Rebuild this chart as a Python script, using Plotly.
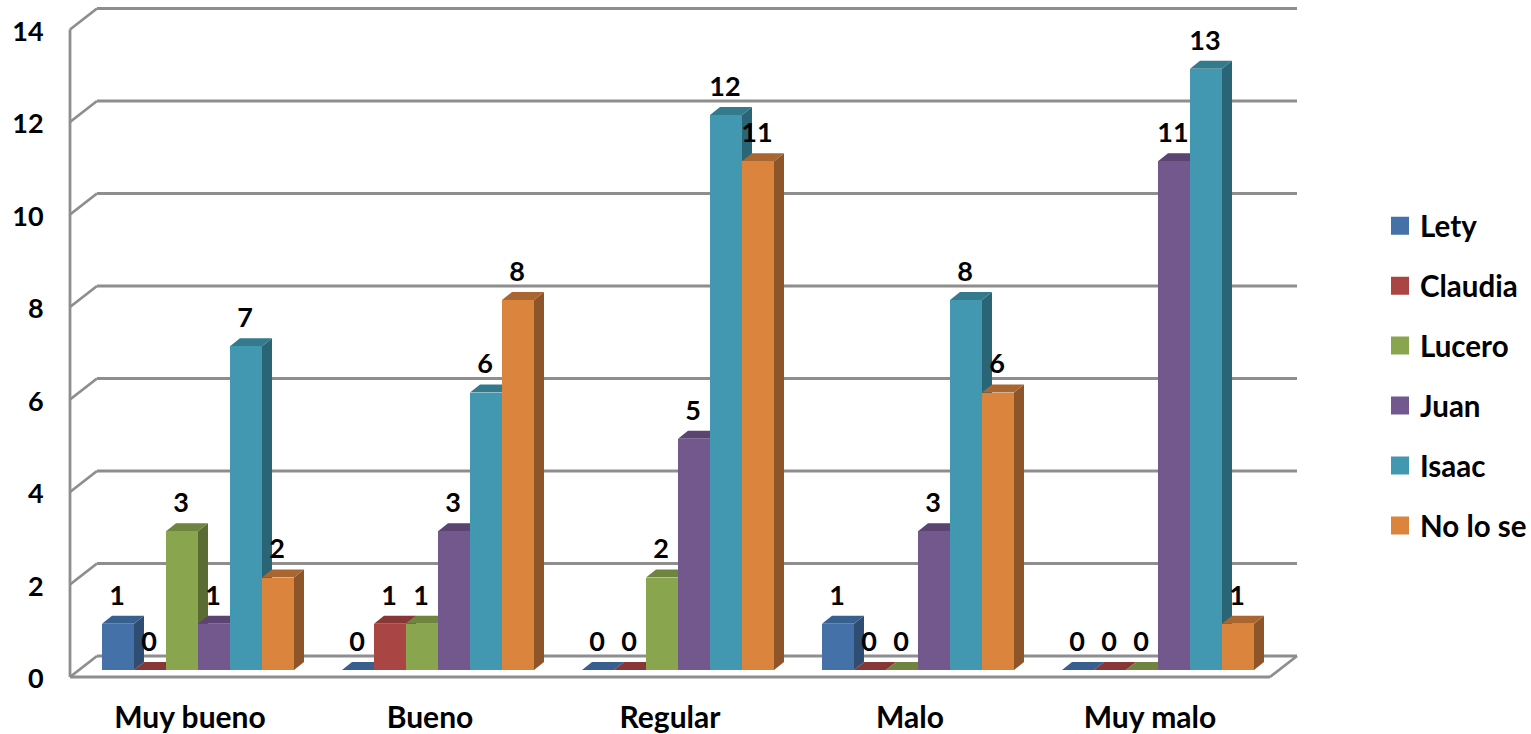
import plotly.graph_objects as go

# Survey counts per answer category and respondent
categories = ["Muy bueno", "Bueno", "Regular", "Malo", "Muy malo"]
lety = [1, 0, 0, 1, 0]
claudia = [0, 1, 0, 0, 0]
lucero = [3, 1, 2, 0, 0]
juan = [1, 3, 5, 3, 11]
isaac = [7, 6, 12, 8, 13]
no_lo_se = [2, 8, 11, 6, 1]
value_ticks = [0, 2, 4, 6, 8, 10, 12, 14]

series = [
    ("Lety", lety, "#4472A8", "#38608F", "#2F4C72"),
    ("Claudia", claudia, "#A94542", "#873735", "#72302E"),
    ("Lucero", lucero, "#89A54E", "#6E843F", "#5B6B34"),
    ("Juan", juan, "#73588E", "#5B4372", "#4A3A5F"),
    ("Isaac", isaac, "#4198B0", "#347A8D", "#2A6575"),
    ("No lo se", no_lo_se, "#DB843D", "#A96630", "#8D5528"),
]

# Scale of the drawing area, in pixels per data unit
PX_PER_CAT = 240.0
PX_PER_VAL = 46.25
PLOT_LEFT, PLOT_RIGHT, PLOT_TOP, PLOT_BOTTOM = 66, 1300, 4, 687
ZERO_PX = 677
FIG_W, FIG_H = 1531, 734
PLOT_W, PLOT_H = PLOT_RIGHT - PLOT_LEFT, PLOT_BOTTOM - PLOT_TOP

x_range = [-0.5 - 4 / PX_PER_CAT, -0.5 - 4 / PX_PER_CAT + PLOT_W / PX_PER_CAT]
y_range = [-(PLOT_BOTTOM - ZERO_PX) / PX_PER_VAL, (ZERO_PX - PLOT_TOP) / PX_PER_VAL]

# Pseudo-3D geometry: depth of the walls and of the bars, converted to data units
wall_dx, wall_dy = 27 / PX_PER_CAT, 21 / PX_PER_VAL
bar_w = 32 / PX_PER_CAT
bar_shift = 8 / PX_PER_CAT
bar_lift = 7 / PX_PER_VAL
depth_dx, depth_dy = 10 / PX_PER_CAT, 8 / PX_PER_VAL
label_gap = 26 / PX_PER_VAL

FONT = "Lato, Carlito, sans-serif"
GRID = "#8E8E8E"

fig = go.Figure()

# Top and side faces sit on the base subplot, beneath the front faces
for i, (name, vals, front, top, side) in enumerate(series):
    tx, ty, sx, sy = [], [], [], []
    for c, v in enumerate(vals):
        left = c + bar_shift + (i - 3) * bar_w
        right = left + bar_w
        h = v + bar_lift
        tx += [left, left + depth_dx, right + depth_dx, right, left, None]
        ty += [h, h + depth_dy, h + depth_dy, h, h, None]
        sx += [right, right + depth_dx, right + depth_dx, right, right, None]
        sy += [h, h + depth_dy, bar_lift + depth_dy, bar_lift, h, None]
    for xs, ys, col in ((sx, sy, side), (tx, ty, top)):
        fig.add_trace(go.Scatter(x=xs, y=ys, mode="lines", fill="toself", fillcolor=col,
                                 line=dict(width=0, color=col), hoverinfo="skip", showlegend=False))

# Front faces and legend entries
for i, (name, vals, front, top, side) in enumerate(series):
    centers = [c + bar_shift + (i - 2.5) * bar_w for c in range(len(categories))]
    fig.add_trace(go.Bar(x=centers, y=vals, base=bar_lift, width=bar_w, name=name,
                         marker=dict(color=front, line=dict(width=0)),
                         xaxis="x2", yaxis="y2", showlegend=False))
    fig.add_trace(go.Scatter(x=[None], y=[None], mode="markers", name=name, legendgroup=name,
                             marker=dict(symbol="square", size=16, color=front,
                                         line=dict(width=2, color=front))))

# Value labels above each bar
for i, (name, vals, front, top, side) in enumerate(series):
    centers = [c + bar_shift + (i - 2.5) * bar_w - 1 / PX_PER_CAT for c in range(len(categories))]
    fig.add_trace(go.Scatter(x=centers, y=[v + bar_lift + label_gap for v in vals],
                             mode="text", text=[str(v) for v in vals], textposition="middle center",
                             textfont=dict(family=FONT, size=27, color="#000000", weight=700),
                             xaxis="x2", yaxis="y2", hoverinfo="skip", showlegend=False))

# Walls and floor of the chart box
x_front_l, x_front_r = -0.5, -0.5 + 5
x_back_l, x_back_r = x_front_l + wall_dx, x_front_r + wall_dx
line = dict(color=GRID, width=2.8)
shapes = []
for v in value_ticks:
    shapes.append(dict(type="line", xref="x", yref="y", layer="below", line=line,
                       x0=x_front_l, y0=v, x1=x_back_l, y1=v + wall_dy))
    shapes.append(dict(type="line", xref="x", yref="y", layer="below", line=line,
                       x0=x_back_l, y0=v + wall_dy, x1=x_back_r, y1=v + wall_dy))
shapes.append(dict(type="line", xref="x", yref="y", layer="below", line=line,
                   x0=x_front_l, y0=value_ticks[0], x1=x_front_l, y1=value_ticks[-1]))
shapes.append(dict(type="line", xref="x", yref="y", layer="below", line=line,
                   x0=x_front_l, y0=0, x1=x_front_r, y1=0))
shapes.append(dict(type="line", xref="x", yref="y", layer="below", line=line,
                   x0=x_front_r, y0=0, x1=x_back_r, y1=wall_dy))

fig.update_layout(
    width=FIG_W, height=FIG_H, autosize=False,
    margin=dict(l=PLOT_LEFT, r=FIG_W - PLOT_RIGHT, t=PLOT_TOP, b=FIG_H - PLOT_BOTTOM, pad=0),
    paper_bgcolor="#FFFFFF", plot_bgcolor="#FFFFFF",
    barmode="overlay", shapes=shapes,
    xaxis=dict(range=x_range, tickmode="array", tickvals=list(range(len(categories))),
               ticktext=categories, showgrid=False, zeroline=False, automargin=False,
               tickfont=dict(family=FONT, size=30, color="#000000", weight=700),
               showline=False, ticks="outside", ticklen=4, tickcolor="rgba(0,0,0,0)"),
    yaxis=dict(range=y_range, tickmode="array", tickvals=value_ticks, automargin=False,
               tickfont=dict(family=FONT, size=27, color="#000000", weight=700),
               showgrid=False, zeroline=False, showline=False, ticklabelshift=2,
               ticks="outside", ticklen=16, tickcolor="rgba(0,0,0,0)"),
    xaxis2=dict(range=x_range, overlaying="x", anchor="y2", visible=False, automargin=False),
    yaxis2=dict(range=y_range, overlaying="y", anchor="x2", visible=False, automargin=False),
    legend=dict(xref="container", yref="container", x=1380 / FIG_W, y=1 - 200 / FIG_H,
                xanchor="left", yanchor="top",
                font=dict(family=FONT, size=29.5, color="#000000", weight=700),
                tracegroupgap=18.6, bgcolor="rgba(0,0,0,0)", itemclick=False, itemdoubleclick=False),
    bargap=0,
)

fig.write_html("out.html")
